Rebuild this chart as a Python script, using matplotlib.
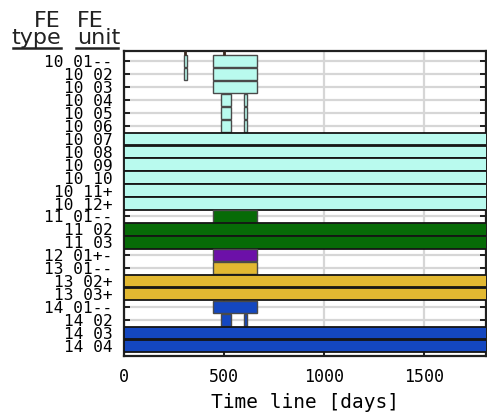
import numpy as np
import matplotlib
matplotlib.use('Agg')
from matplotlib import pyplot as plt
from matplotlib.lines import Line2D

# FE rows, top to bottom
row_labels = ['10 01--', '10 02', '10 03', '10 04', '10 05', '10 06',
              '10 07', '10 08', '10 09', '10 10', '10 11+', '10 12+',
              '11 01--', '11 02', '11 03', '12 01+-', '13 01--',
              '13 02+', '13 03+', '14 01--', '14 02', '14 03', '14 04']
row_types = [10] * 12 + [11] * 3 + [12] + [13] * 3 + [14] * 4

type_colors = {10: '#b9faee', 11: '#076b07', 12: '#6c10a8',
               13: '#e2b831', 14: '#1447c0'}

# active periods [days] per row
seg_start = [[300, 446], [300, 446], [446], [487, 598], [487, 598], [487, 598],
             [0], [0], [0], [0], [0], [0],
             [446], [0], [0], [446], [446],
             [0], [0], [446], [487, 598], [0], [0]]
seg_end = [[315, 666], [315, 666], [666], [533, 613], [533, 613], [533, 613],
           [1900], [1900], [1900], [1900], [1900], [1900],
           [666], [1900], [1900], [666], [666],
           [1900], [1900], [666], [533, 613], [1900], [1900]]

# single-day events above the first row
event_days = [306, 501]

x_max = 1810

fig = plt.figure(figsize=(4.87, 4.13), dpi=100)
ax = fig.add_axes([123.8 / 487, 57 / 413, (486.5 - 123.8) / 487, (356 - 51) / 413])

ypos = np.arange(len(row_labels))
for i, (starts, ends) in enumerate(zip(seg_start, seg_end)):
	col = type_colors[row_types[i]]
	for s, e in zip(starts, ends):
		full = e > x_max
		ax.barh(i, e - s, left=s, height=0.93, color=col,
			edgecolor='#151515' if full else '#4a4a4a',
			linewidth=1.3 if full else 1.0, zorder=3)

ax.vlines(event_days, -0.74, -0.45, color='#3a2a20', linewidth=2.0, zorder=4)

ax.set_xlim(0, x_max)
ax.set_ylim(len(row_labels) - 1 + 0.74, -0.74)
ax.set_yticks(ypos)
ax.set_yticklabels(row_labels, family='DejaVu Sans Mono', fontsize=11.6)
ax.set_xticks([0, 500, 1000, 1500])
ax.set_xticklabels(['0', '500', '1000', '1500'], family='DejaVu Sans Mono', fontsize=12)
ax.tick_params(axis='y', direction='in', length=4, width=1.2, pad=8, right=True)
ax.tick_params(axis='x', direction='in', length=4, width=1.2, pad=9)
ax.set_xlabel('Time line [days]', family='DejaVu Sans Mono', fontsize=14, labelpad=5)

ax.grid(True, color='#d6d6d6', linewidth=1.6, zorder=0)
ax.set_axisbelow(True)
for sp in ax.spines.values():
	sp.set_linewidth(1.6)
	sp.set_color('#202020')

# column headers
hdr = dict(fontsize=16, va='baseline', color='#222222')
fig.text(61 / 487, 1 - 27 / 413, 'FE', ha='right', **hdr)
fig.text(61 / 487, 1 - 44 / 413, 'type', ha='right', **hdr)
fig.text(77 / 487, 1 - 27 / 413, 'FE', ha='left', **hdr)
fig.text(77 / 487, 1 - 44 / 413, 'unit', ha='left', **hdr)
fig.add_artist(Line2D([13 / 487, 61 / 487], [1 - 48 / 413] * 2, color='#222222', lw=1.8))
fig.add_artist(Line2D([76 / 487, 118 / 487], [1 - 48 / 413] * 2, color='#222222', lw=1.8))

fig.savefig('out.png', dpi=100)
